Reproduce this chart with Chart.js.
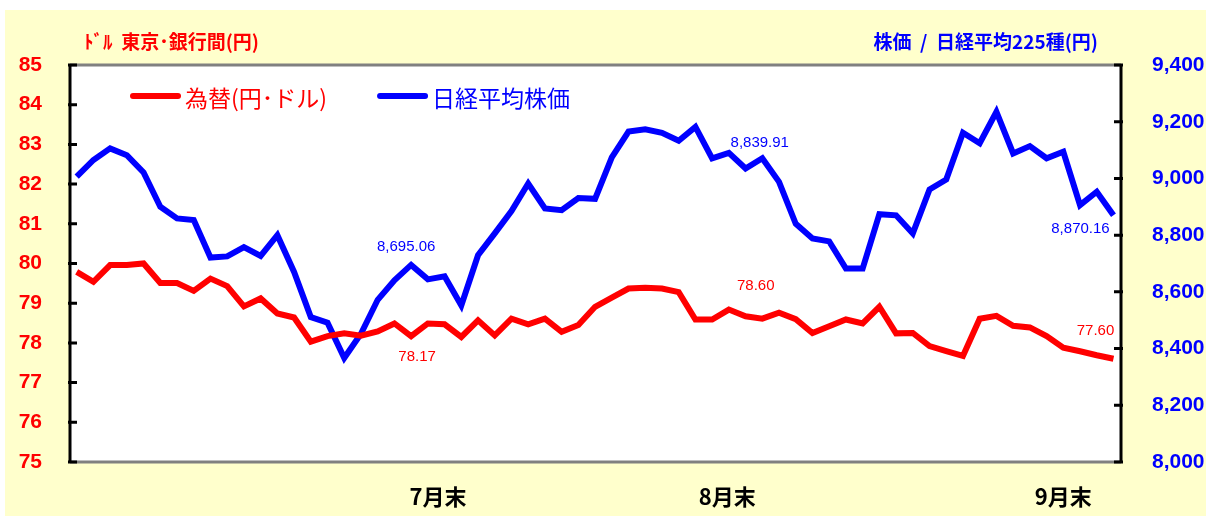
<!DOCTYPE html>
<html lang="ja">
<head>
<meta charset="utf-8">
<script src="https://cdn.jsdelivr.net/npm/chart.js@4.4.1/dist/chart.umd.min.js"></script>
<style>
  html, body { margin: 0; padding: 0; background: #fff; }
  #wrap { width: 1206px; height: 518px; }
</style>
</head>
<body>
<div id="wrap"><canvas id="chart"></canvas></div>
<script>
// 営業日 (2012/7/2 - 9/28)
const tradeDates = [
  '7/2','7/3','7/4','7/5','7/6','7/9','7/10','7/11','7/12','7/13',
  '7/17','7/18','7/19','7/20','7/23','7/24','7/25','7/26','7/27','7/30','7/31',
  '8/1','8/2','8/3','8/6','8/7','8/8','8/9','8/10','8/13','8/14','8/15','8/16','8/17',
  '8/20','8/21','8/22','8/23','8/24','8/27','8/28','8/29','8/30','8/31',
  '9/3','9/4','9/5','9/6','9/7','9/10','9/11','9/12','9/13','9/14',
  '9/18','9/19','9/20','9/21','9/24','9/25','9/26','9/27','9/28'
];

// 為替(円・ドル)
const fxRate = [
  79.79, 79.54, 79.96, 79.96, 80.00, 79.51, 79.51, 79.31, 79.62, 79.43,
  78.92, 79.12, 78.74, 78.64, 78.03, 78.17, 78.24, 78.18, 78.29, 78.49, 78.17,
  78.49, 78.47, 78.15, 78.57, 78.19, 78.61, 78.47, 78.61, 78.28,
  78.45, 78.91, 79.14, 79.37, 79.39, 79.37, 79.28, 78.59, 78.59, 78.84,
  78.67, 78.61, 78.76, 78.60, 78.25, 78.42, 78.59, 78.49, 78.91, 78.24,
  78.25, 77.92, 77.79, 77.67, 78.61, 78.68, 78.43, 78.39, 78.17, 77.88,
  77.79, 77.69, 77.60
];

// 日経平均株価
const nikkei = [
  9006, 9065, 9106, 9082, 9021, 8900, 8859, 8853, 8721, 8725,
  8758, 8727, 8800, 8670, 8511, 8491, 8367, 8452, 8572, 8641, 8695.06,
  8644, 8655, 8552, 8729, 8806, 8885, 8982, 8894, 8888,
  8931, 8928, 9074, 9165, 9173, 9161, 9133, 9182, 9071, 9090,
  9035, 9071, 8988, 8839.91, 8788, 8778, 8682, 8682, 8874, 8870,
  8806, 8961, 8996, 9161, 9124, 9235, 9088, 9114, 9071, 9094,
  8906, 8953, 8870.16
];

// x軸の目盛ラベル
const monthEndLabels = ['7月末', '8月末', '9月末'];
const monthEndPos = [21.6, 38.9, 59];

// 値ラベル (系列, 日付の番号, ずらし)
const valueLabels = [
  { ds: 1, i: 20, dx: -5, dy: -18 },
  { ds: 0, i: 20, dx: 6, dy: 21 },
  { ds: 1, i: 43, dx: -36, dy: -81 },
  { ds: 0, i: 43, dx: -40, dy: -33 },
  { ds: 1, i: 62, dx: -33, dy: 14 },
  { ds: 0, i: 62, dx: -18, dy: -28 }
];

const RED = '#ff0000';
const BLUE = '#0000ff';
const JP = "'Noto Sans CJK JP', sans-serif";
const NUM = "'Liberation Sans', Arial, sans-serif";

const framePlugin = {
  id: 'frame',
  beforeDraw(chart) {
    const { ctx, chartArea: a } = chart;
    ctx.save();
    ctx.fillStyle = '#ffffff';
    ctx.fillRect(0, 0, chart.width, chart.height);
    ctx.fillStyle = '#ffffcc';
    ctx.fillRect(5, 10, chart.width - 5, chart.height - 12);
    ctx.fillStyle = '#ffffff';
    ctx.fillRect(a.left, a.top, a.right - a.left, a.bottom - a.top);
    ctx.restore();
  },
  afterDatasetsDraw(chart) {
    const { ctx, chartArea: a, scales } = chart;
    ctx.save();
    ctx.lineWidth = 3;
    ctx.strokeStyle = '#808080';
    ctx.beginPath();
    ctx.moveTo(a.left, a.top); ctx.lineTo(a.right, a.top);
    ctx.moveTo(a.left, a.bottom); ctx.lineTo(a.right, a.bottom);
    ctx.stroke();

    ctx.strokeStyle = '#000000';
    ctx.beginPath();
    ctx.moveTo(a.left, a.top - 1.5); ctx.lineTo(a.left, a.bottom + 1.5);
    ctx.moveTo(a.right, a.top - 1.5); ctx.lineTo(a.right, a.bottom + 1.5);
    scales.yFx.ticks.forEach(t => {
      const y = scales.yFx.getPixelForValue(t.value);
      ctx.moveTo(a.left - 2, y); ctx.lineTo(a.left + 7, y);
    });
    scales.yNk.ticks.forEach(t => {
      const y = scales.yNk.getPixelForValue(t.value);
      ctx.moveTo(a.right + 2, y); ctx.lineTo(a.right - 7, y);
    });
    ctx.stroke();
    ctx.restore();
  },
  afterDraw(chart) {
    const { ctx, chartArea: a } = chart;
    ctx.save();
    // 軸タイトル
    ctx.font = 'bold 19px ' + JP;
    ctx.textBaseline = 'middle';
    ctx.fillStyle = RED;
    ctx.textAlign = 'left';
    ctx.fillText('ﾄﾞﾙ  東京･銀行間(円)', 84, 42);
    ctx.fillStyle = BLUE;
    ctx.textAlign = 'right';
    ctx.fillText('株価  /  日経平均225種(円)', 1098, 42);

    // 凡例
    ctx.font = '23px ' + JP;
    ctx.textAlign = 'left';
    let x = a.left + 60;
    const y = a.top + 31;
    chart.data.datasets.forEach(ds => {
      ctx.strokeStyle = ds.borderColor;
      ctx.lineWidth = 6;
      ctx.lineCap = 'round';
      ctx.beginPath();
      ctx.moveTo(x + 3, y); ctx.lineTo(x + 48, y);
      ctx.stroke();
      ctx.fillStyle = ds.borderColor;
      ctx.fillText(ds.label, x + 55, y + 2);
      x += 55 + ctx.measureText(ds.label).width + 50;
    });

    // 値ラベル
    ctx.font = '15px ' + NUM;
    ctx.textAlign = 'center';
    valueLabels.forEach(l => {
      const ds = chart.data.datasets[l.ds];
      const pt = chart.getDatasetMeta(l.ds).data[l.i];
      const v = ds.data[l.i].y;
      ctx.fillStyle = ds.borderColor;
      ctx.fillText(v.toLocaleString('en-US', { minimumFractionDigits: 2, maximumFractionDigits: 2 }),
        pt.x + l.dx, pt.y + l.dy);
    });
    ctx.restore();
  }
};

const ctx = document.getElementById('chart').getContext('2d');
const myChart = new Chart(ctx, {
  type: 'line',
  data: {
    labels: tradeDates,
    datasets: [{
      label: '為替(円･ドル)',
      data: tradeDates.map((d, i) => ({ x: i, y: fxRate[i] })),
      borderColor: RED,
      backgroundColor: RED,
      borderWidth: 6,
      pointRadius: 0,
      tension: 0,
      yAxisID: 'yFx'
    }, {
      label: '日経平均株価',
      data: tradeDates.map((d, i) => ({ x: i, y: nikkei[i] })),
      borderColor: BLUE,
      backgroundColor: BLUE,
      borderWidth: 6,
      pointRadius: 0,
      tension: 0,
      yAxisID: 'yNk'
    }]
  },
  options: {
    responsive: true,
    maintainAspectRatio: false,
    animation: false,
    layout: { padding: { top: 65, left: 0, right: 0, bottom: 0 } },
    plugins: {
      legend: { display: false },
      tooltip: { enabled: false }
    },
    scales: {
      x: {
        type: 'linear',
        min: -0.4,
        max: 62.45,
        grid: { display: false, drawTicks: false },
        border: { display: false },
        afterBuildTicks: s => { s.ticks = monthEndPos.map(v => ({ value: v })); },
        afterFit: s => { s.height = 56; },
        ticks: {
          autoSkip: false,
          maxRotation: 0,
          padding: 21,
          color: '#000000',
          font: { family: JP, size: 22, weight: 'bold' },
          callback: (v, i) => monthEndLabels[i]
        }
      },
      yFx: {
        position: 'left',
        min: 75,
        max: 85,
        grid: { display: false, drawTicks: false },
        border: { display: false },
        afterFit: s => { s.width = 70; },
        ticks: {
          stepSize: 1,
          padding: 28,
          color: RED,
          font: { family: NUM, size: 21, weight: 'bold' }
        }
      },
      yNk: {
        position: 'right',
        min: 8000,
        max: 9400,
        grid: { display: false, drawTicks: false },
        border: { display: false },
        afterFit: s => { s.width = 85; },
        ticks: {
          stepSize: 200,
          padding: 31,
          color: BLUE,
          font: { family: NUM, size: 21, weight: 'bold' },
          callback: v => v.toLocaleString('en-US')
        }
      }
    }
  },
  plugins: [framePlugin]
});
</script>
</body>
</html>
